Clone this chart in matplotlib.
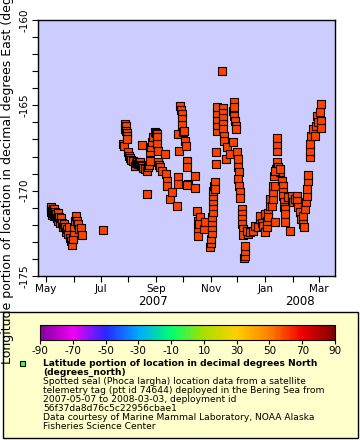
import numpy as np
import matplotlib
matplotlib.use('Agg')
import matplotlib.pyplot as plt
import matplotlib.dates as mdates
from matplotlib.colors import LinearSegmentedColormap, Normalize
from matplotlib.cm import ScalarMappable
from matplotlib.patches import Rectangle
from datetime import datetime

plt.rcParams['axes.unicode_minus'] = False

# days since 2007-05-01, longitude (degrees east)
start = datetime(2007, 5, 1)

spring = [(5.0, -171.0), (5.5, -171.25), (6.0, -170.95), (6.5, -171.2), (7.0, -171.4),
          (7.5, -171.1), (8.0, -171.3), (8.5, -171.05), (9.0, -171.5), (9.5, -171.25),
          (10.0, -171.45), (11.0, -171.35), (12.0, -171.6), (13.0, -171.3), (13.5, -171.8),
          (14.5, -171.55), (15.5, -171.9), (17.0, -171.6), (18.0, -171.9), (19.0, -172.1),
          (20.0, -171.95), (21.0, -172.15), (22.0, -172.45), (23.5, -172.25), (24.5, -172.55),
          (26.0, -172.1), (27.0, -172.75), (28.0, -172.95), (29.0, -173.2), (30.0, -172.85),
          (31.0, -172.45), (31.5, -172.1), (32.5, -171.8), (33.5, -171.5), (34.5, -171.75),
          (35.5, -171.95), (37.0, -172.25), (39.0, -172.2), (40.0, -172.6), (63.7, -172.3)]

late_summer = [(86.0, -167.28), (87.1, -167.40), (88.2, -166.11), (88.5, -166.40), (89.4, -166.23),
               (89.4, -166.52), (90.0, -166.65), (90.5, -166.82), (90.5, -166.99), (91.6, -167.75),
               (92.5, -167.95), (93.8, -168.10), (95.5, -168.20), (97.2, -168.28), (99.4, -168.57),
               (100.5, -168.40), (101.6, -168.34), (102.8, -168.46), (104.0, -168.40), (105.0, -168.34),
               (106.0, -168.50), (107.2, -168.57), (107.2, -167.34), (108.3, -168.69), (110.6, -168.75),
               (112.8, -168.87), (112.8, -170.21), (113.9, -168.63), (115.0, -168.50), (116.2, -168.28),
               (116.2, -167.75), (117.3, -167.45), (118.4, -167.17), (119.5, -166.88), (121.8, -166.58),
               (123.0, -166.65), (124.0, -166.70), (124.0, -166.88), (124.0, -167.28), (125.1, -167.69),
               (125.1, -168.34), (126.2, -168.50), (127.3, -168.63), (129.6, -168.87), (132.9, -167.87),
               (134.0, -169.04), (135.2, -169.45), (135.2, -169.75), (138.5, -170.51), (140.7, -170.10),
               (146.3, -170.92)]

october = [(147.4, -166.70), (148.6, -167.69), (149.7, -165.06), (150.8, -165.30), (151.9, -165.53),
           (151.9, -165.82), (152.5, -166.15), (153.0, -166.58), (154.1, -166.52), (155.3, -167.11),
           (156.4, -167.40), (147.4, -169.22), (147.4, -169.63), (157.5, -168.28), (157.5, -168.63),
           (158.6, -169.63), (157.5, -169.69), (166.4, -169.16), (166.4, -169.86), (168.7, -171.21),
           (169.8, -171.80), (169.8, -172.27), (169.8, -172.68), (172.0, -171.56), (170.9, -171.97),
           (176.5, -172.27), (177.6, -171.86), (183.5, -173.32), (184.0, -173.09), (184.5, -172.85),
           (185.0, -172.50), (185.4, -172.15), (185.8, -171.86), (186.0, -171.56), (186.2, -171.27),
           (186.5, -170.92), (186.5, -170.62), (186.8, -170.33), (187.0, -170.04), (187.2, -169.75)]

november = [(188.8, -169.51), (188.8, -169.92), (189.9, -167.75), (189.9, -168.46), (191.0, -166.52),
            (191.0, -166.17), (191.0, -165.82), (191.0, -165.47), (191.0, -165.12), (196.6, -163.01),
            (197.7, -165.17), (197.7, -165.47), (197.7, -165.76), (197.7, -166.11), (197.7, -166.41),
            (198.8, -166.82), (198.8, -167.11), (201.1, -168.16), (202.2, -167.46), (205.5, -167.87),
            (208.9, -167.17), (208.9, -165.35), (210.0, -164.82), (210.0, -165.12), (210.0, -165.64),
            (211.1, -165.94), (212.2, -166.23), (212.2, -166.41), (213.3, -167.75), (214.5, -168.16),
            (214.5, -168.63), (215.6, -168.93), (214.5, -169.33), (215.6, -169.75), (216.7, -170.10),
            (216.7, -170.45), (218.9, -171.09), (218.9, -171.39), (218.9, -171.68), (218.9, -171.97),
            (220.0, -172.27), (220.0, -172.62), (221.2, -173.96), (222.3, -173.85), (222.3, -173.55),
            (222.3, -173.26), (225.6, -172.56)]

winter = [(224.5, -172.38), (227.9, -172.44), (231.2, -172.38), (233.5, -172.09), (236.8, -172.15),
          (239.0, -171.68), (239.0, -171.50), (241.3, -171.91), (242.4, -172.09), (244.6, -171.39),
          (244.6, -172.44), (246.9, -172.15), (246.9, -171.80), (248.0, -171.33), (248.0, -171.56),
          (250.2, -170.92), (250.2, -170.51), (252.4, -170.92), (253.6, -170.51), (253.6, -170.10),
          (253.6, -169.75), (255.8, -169.75), (254.7, -169.16), (256.9, -168.75), (258.0, -168.34),
          (258.0, -167.69), (258.0, -167.28), (258.0, -166.93), (259.1, -168.63), (261.4, -168.93),
          (255.8, -168.87), (255.8, -171.86)]

early_2008 = [(261.4, -168.75), (263.6, -169.45), (264.7, -169.75), (264.7, -170.10), (264.7, -170.33),
              (265.8, -170.68), (265.8, -170.98), (267.0, -171.09), (267.0, -171.39), (267.0, -171.86),
              (272.5, -172.38), (270.3, -170.39), (274.8, -170.33), (275.9, -170.68), (278.1, -170.51),
              (280.4, -170.33), (280.4, -170.62), (281.5, -170.98), (283.7, -171.27), (284.8, -171.68),
              (287.1, -171.50), (287.1, -171.97), (288.2, -172.15), (289.3, -171.09), (290.4, -170.68),
              (291.5, -170.33), (291.5, -169.92), (292.7, -169.45), (292.7, -169.10), (294.9, -168.04),
              (294.9, -167.69), (294.9, -167.28), (296.0, -166.82), (298.2, -166.41), (300.5, -166.82),
              (301.6, -166.23), (302.7, -165.64), (303.8, -166.00), (306.0, -165.41), (307.0, -164.94),
              (307.0, -165.94), (307.0, -166.35)]

cbar_ticks = [-90, -70, -50, -30, -10, 10, 30, 50, 70, 90]
cbar_colors = ['#8000a0', '#f000f0', '#2828ff', '#00a8ff', '#00ff70',
               '#a8e000', '#ffd000', '#ff8000', '#f00000', '#800000']

legend_title = ['Latitude portion of location in decimal degrees North',
                '(degrees_north)']
legend_lines = ['Spotted seal (Phoca largha) location data from a satellite',
                'telemetry tag (ptt id 74644) deployed in the Bering Sea from',
                '2007-05-07 to 2008-03-03, deployment id',
                '56f37da8d76c5c22956cbae1',
                'Data courtesy of Marine Mammal Laboratory, NOAA Alaska',
                'Fisheries Science Center']

W, H = 360, 440
fig = plt.figure(figsize=(W / 100, H / 100), dpi=100)

pts = np.array(spring + late_summer + october + november + winter + early_2008)
t = mdates.date2num(start) + pts[:, 0]

ax = fig.add_axes([38 / W, 1 - 276 / H, 297 / W, 256 / H])
ax.set_facecolor('#ccccff')
ax.scatter(t, pts[:, 1], marker='s', s=26, facecolor='#ff4000',
           edgecolor='black', linewidths=0.8, zorder=3)

ax.set_xlim(mdates.date2num(datetime(2007, 4, 22)), mdates.date2num(datetime(2008, 3, 19)))
ax.set_ylim(-175, -160)
ax.xaxis.set_major_locator(mdates.MonthLocator(bymonth=[1, 3, 5, 7, 9, 11]))
ax.xaxis.set_major_formatter(mdates.DateFormatter('%b'))
ax.xaxis.set_minor_locator(mdates.MonthLocator())
ax.set_yticks([-175, -170, -165, -160])
ax.set_yticks(np.arange(-175, -159), minor=True)
ax.tick_params(which='both', direction='out', length=4, width=0.8, labelsize=7.5, pad=2)
ax.tick_params(axis='y', labelrotation=90)
for lbl in ax.get_yticklabels():
    lbl.set_va('center')
for sp in ax.spines.values():
    sp.set_linewidth(1.0)

ax.text(mdates.date2num(datetime(2007, 8, 28)), -0.1, '2007', transform=ax.get_xaxis_transform(),
        ha='center', va='center', fontsize=8.5)
ax.text(mdates.date2num(datetime(2008, 2, 9)), -0.1, '2008', transform=ax.get_xaxis_transform(),
        ha='center', va='center', fontsize=8.5)
ax.set_ylabel('Longitude portion of location in decimal degrees East (degrees_east)', fontsize=9, labelpad=4)

# legend box
box = Rectangle((3 / W, 2 / H), 355 / W, (438 - 312) / H, transform=fig.transFigure,
                facecolor='#ffffcc', edgecolor='black', linewidth=1.0, zorder=-1)
fig.patches.append(box)

cax = fig.add_axes([40 / W, 1 - 340 / H, 295 / W, 15 / H])
cmap = LinearSegmentedColormap.from_list('lat', cbar_colors)
sm = ScalarMappable(norm=Normalize(-90, 90), cmap=cmap)
cb = fig.colorbar(sm, cax=cax, orientation='horizontal', ticks=cbar_ticks)
cb.outline.set_linewidth(0.8)
cax.tick_params(labelsize=7.5, length=3, width=0.8, pad=1)

fig.patches.append(Rectangle((20 / W, 1 - 366 / H), 5 / W, 5 / H, transform=fig.transFigure,
                             facecolor='#40ff40', edgecolor='black', linewidth=0.8))

y = 363
for line in legend_title:
    fig.text(43 / W, 1 - y / H, line, fontsize=6.6, fontweight='bold', va='center')
    y += 9.2
for line in legend_lines:
    fig.text(43 / W, 1 - y / H, line, fontsize=6.6, va='center')
    y += 9.1

fig.savefig('out.png', dpi=100)
